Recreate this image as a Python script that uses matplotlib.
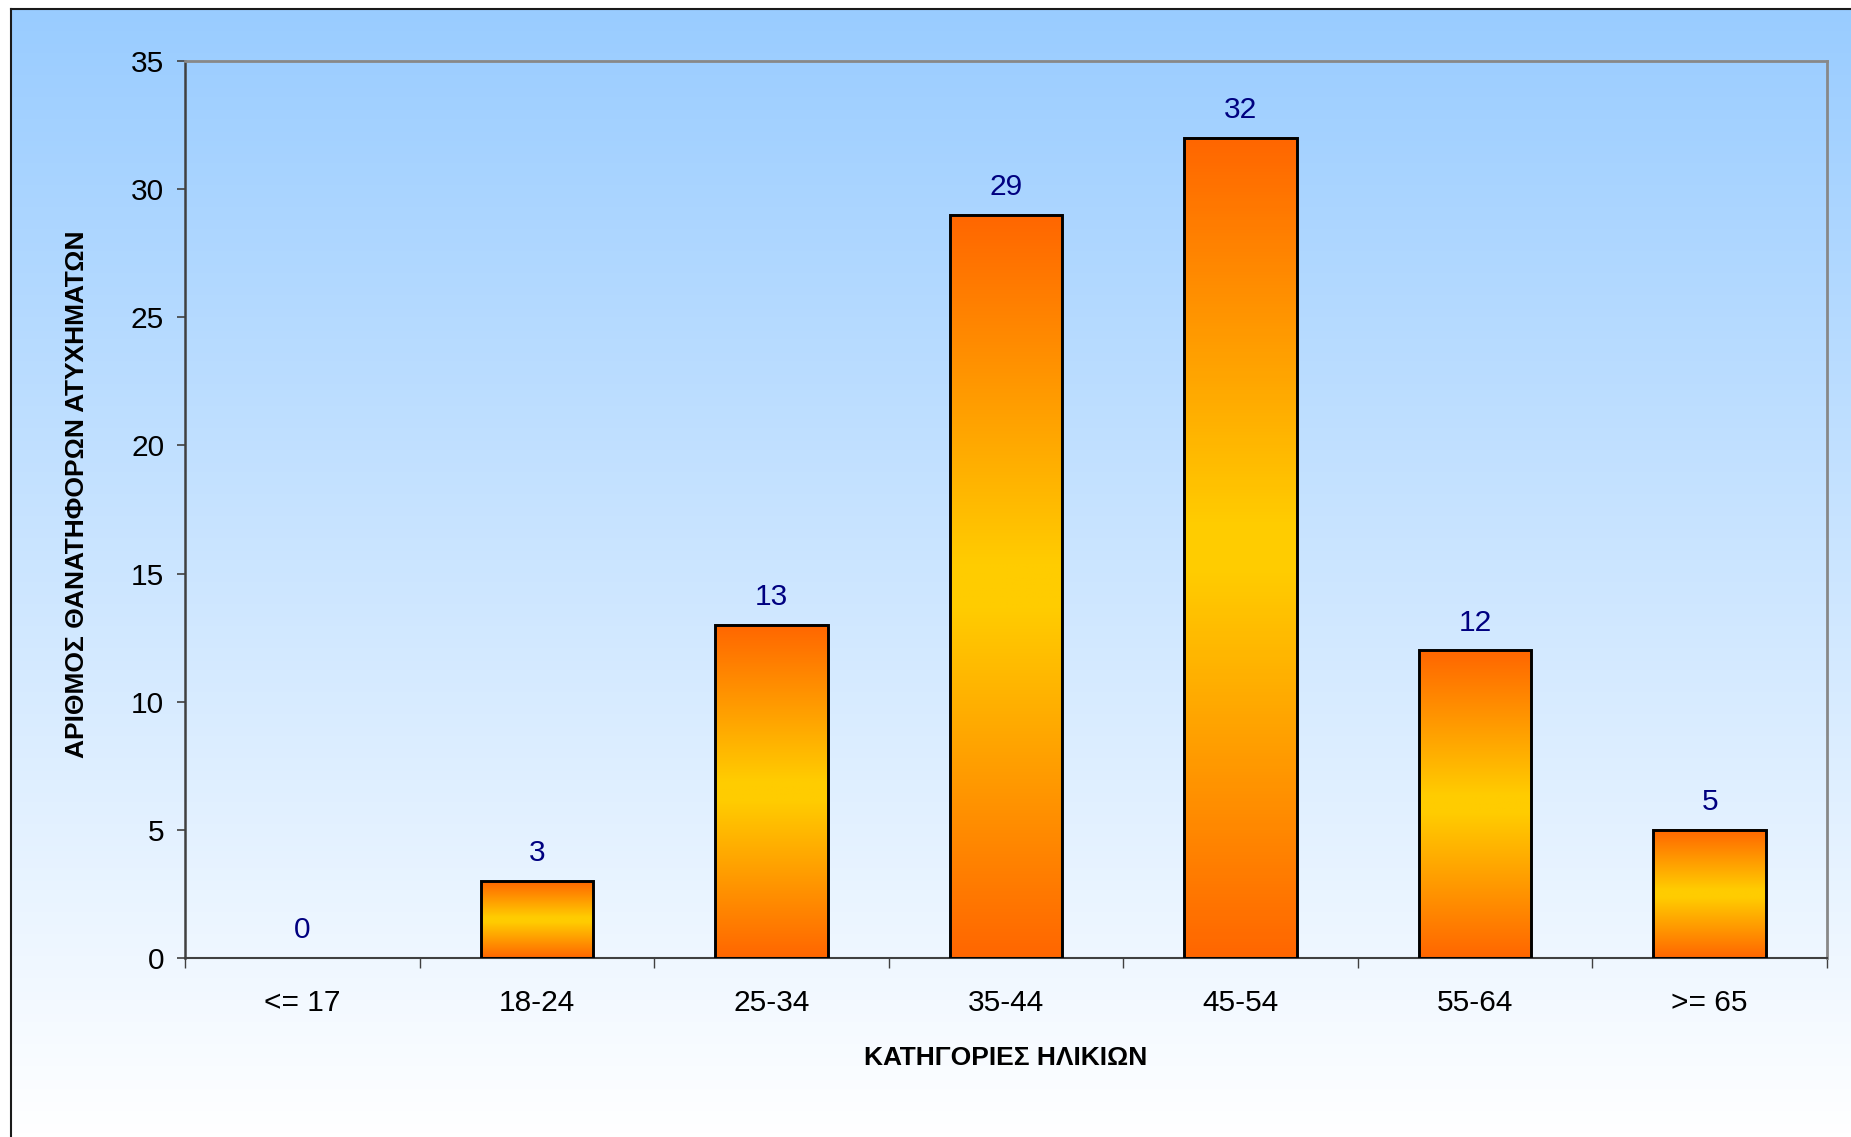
import numpy as np
import matplotlib.pyplot as plt
from matplotlib.colors import LinearSegmentedColormap

# data
categories = ['<= 17', '18-24', '25-34', '35-44', '45-54', '55-64', '>= 65']
deaths = [0, 3, 13, 29, 32, 12, 5]
y_ticks = [0, 5, 10, 15, 20, 25, 30, 35]

plt.rcParams['font.family'] = ['Liberation Sans', 'DejaVu Sans']

W, H = 1851, 1137
fig = plt.figure(figsize=(W / 100, H / 100), dpi=100)

# chart area background: blue -> white gradient, frame on left and top
bg = fig.add_axes([11 / W, 0, 1 - 11 / W, 1 - 9 / H])
grad = np.linspace(0, 1, 256).reshape(-1, 1)
bg_cmap = LinearSegmentedColormap.from_list('bg', ['#99ccff', '#ffffff'])
bg.imshow(grad, cmap=bg_cmap, aspect='auto', extent=(0, 1, 0, 1), origin='upper')
bg.set_xticks([])
bg.set_yticks([])
for s in ['right', 'bottom']:
    bg.spines[s].set_visible(False)
for s in ['left', 'top']:
    bg.spines[s].set_color('#1a1a1a')
    bg.spines[s].set_linewidth(1.5)

ax = fig.add_axes([185 / W, 1 - 958 / H, (1827 - 185) / W, (958 - 61) / H])
ax.patch.set_alpha(0)

x = np.arange(len(categories))
bars = ax.bar(x, deaths, width=0.48, facecolor='none', edgecolor='black',
              linewidth=2.1, zorder=3)
bar_cmap = LinearSegmentedColormap.from_list(
    'bar', [(0, '#ff6600'), (0.47, '#ffcc00'), (0.53, '#ffcc00'), (1, '#ff6600')])
for b in bars:
    h = b.get_height()
    if h <= 0:
        b.set_linewidth(0)
        continue
    ax.imshow(grad, cmap=bar_cmap, aspect='auto', zorder=2,
              extent=(b.get_x(), b.get_x() + b.get_width(), 0, h))

for xi, v in zip(x, deaths):
    ax.annotate(str(v), (xi, v), xytext=(0, 20), textcoords='offset points',
                ha='center', va='center', color='#000080', fontsize=21.5)

ax.set_xlim(-0.5, len(categories) - 0.5)
ax.set_ylim(0, 35)

ax.set_yticks(y_ticks)
ax.tick_params(axis='y', length=6, width=1.2, color='#404040', pad=9, labelsize=21.5)
ax.set_xticks(x, categories)
ax.tick_params(axis='x', which='major', length=0, pad=22.5, labelsize=21.5)
ax.set_xticks(np.arange(-0.5, len(categories), 1), minor=True)
ax.tick_params(axis='x', which='minor', length=7, width=1.0, color='#404040')

ax.spines['left'].set_color('#404040')
ax.spines['left'].set_linewidth(1.8)
ax.spines['bottom'].set_color('#404040')
ax.spines['bottom'].set_linewidth(1.5)
for s in ['top', 'right']:
    ax.spines[s].set_color('#888888')
    ax.spines[s].set_linewidth(2)

ax.set_ylabel('ΑΡΙΘΜΟΣ ΘΑΝΑΤΗΦΟΡΩΝ ΑΤΥΧΗΜΑΤΩΝ', fontsize=19, fontweight='bold', va='center')
ax.yaxis.set_label_coords(-0.0655, 0.517)
ax.set_xlabel('ΚΑΤΗΓΟΡΙΕΣ ΗΛΙΚΙΩΝ', fontsize=19, fontweight='bold', va='center')
ax.xaxis.set_label_coords(0.5, -0.111)

fig.savefig('out.png', dpi=100)
